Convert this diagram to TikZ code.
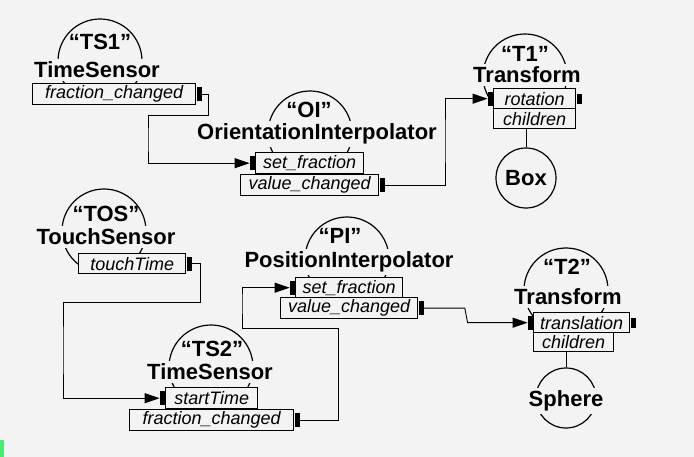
\documentclass[tikz,border=0pt]{standalone}
\usepackage{fontspec}
\setmainfont{Liberation Sans}
\usetikzlibrary{arrows.meta,positioning}
\definecolor{Paper}{HTML}{F3F3F3}
\definecolor{Marker}{HTML}{4CEB78}
\newcommand\typefont{\fontsize{22}{24}\selectfont\bfseries}
\newcommand\fieldfont{\fontsize{18}{20}\selectfont\itshape}

\begin{document}
\begin{tikzpicture}[x=1pt,y=-1pt,
  ring/.style={draw,line width=1.2pt,circle,minimum size=84pt,inner sep=0pt},
  typename/.style={font=\typefont,fill=Paper,inner xsep=2pt,inner ysep=3pt},
  defname/.style={font=\typefont,inner sep=0pt},
  field/.style={draw,line width=1.4pt,fill=Paper,font=\fieldfont,minimum height=21pt,
    inner sep=0pt,anchor=north west},
  port/.style={fill=black,minimum width=5pt,minimum height=14pt,inner sep=0pt},
  knob/.style={fill=black,minimum width=5pt,minimum height=10pt,inner sep=0pt},
  shapenode/.style={draw,line width=1.2pt,circle,minimum size=60pt,inner sep=0pt,font=\typefont},
  wire/.style={line width=0.9pt},
  route/.style={wire,-{Triangle[length=15pt,width=10pt]}}
]
\useasboundingbox[fill=Paper] (0,0) rectangle (694,457);
\fill[Marker] (0,440) rectangle (4,457);

\node[ring] (ts1ring) at (100,61) {};
\node[ring] (oiring) at (310,133) {};
\node[ring] (t1ring) at (525,76) {};
\node[ring] (tosring) at (104,231) {};
\node[ring] (piring) at (347,259) {};
\node[ring] (ts2ring) at (211,367) {};
\node[ring] (t2ring) at (566,290) {};

\node[typename] (ts1) at (97,70) {TimeSensor};
\node[defname] (ts1def) at (100,42) {“TS1”};
\node[field,minimum width=163pt] (ts1fc) at (32,83) {fraction\_changed};
\node[port,anchor=west] (ts1fcp) at (ts1fc.east) {};

\node[typename] (oi) at (317,134) {OrientationInterpolator};
\node[defname] (oidef) at (309,110) {“OI”};
\node[field,minimum width=108pt] (oisf) at (255,152) {set\_fraction};
\node[port,anchor=east] (oisfp) at (oisf.west) {};
\node[field,minimum width=138pt] (oivc) at (240,174) {value\_changed};
\node[port,anchor=west] (oivcp) at (oivc.east) {};

\node[typename] (t1) at (527,75) {Transform};
\node[defname] (t1def) at (525,54) {“T1”};
\node[field,minimum width=82pt,minimum height=20pt] (t1rot) at (493,88) {rotation};
\node[port,anchor=east] (t1rotp) at (t1rot.west) {};
\node[knob,anchor=west] (t1rotk) at (t1rot.east) {};
\node[field,minimum width=82pt,minimum height=20pt] (t1ch) at (493,108) {children};
\node[shapenode] (box) at (526,178) {Box};

\node[typename] (tos) at (106,237) {TouchSensor};
\node[defname] (tosdef) at (106,214) {“TOS”};
\node[field,minimum width=107pt,minimum height=20pt] (tost) at (78,253) {touchTime};
\node[port,anchor=west] (tostp) at (tost.east) {};

\node[typename] (pi) at (349,262) {PositionInterpolator};
\node[defname] (pidef) at (340,236) {“PI”};
\node[field,minimum width=107pt,minimum height=20pt] (pisf) at (295,277) {set\_fraction};
\node[port,anchor=east] (pisfp) at (pisf.west) {};
\node[field,minimum width=137pt] (pivc) at (280,297) {value\_changed};
\node[port,anchor=west] (pivcp) at (pivc.east) {};

\node[typename] (ts2) at (210,372) {TimeSensor};
\node[defname] (ts2def) at (212,349) {“TS2”};
\node[field,minimum width=92pt] (ts2st) at (165,387) {startTime};
\node[port,anchor=east] (ts2stp) at (ts2st.west) {};
\node[field,minimum width=164pt] (ts2fc) at (129,409) {fraction\_changed};
\node[port,anchor=west] (ts2fcp) at (ts2fc.east) {};

\node[typename] (t2) at (568,297) {Transform};
\node[defname] (t2def) at (567,267) {“T2”};
\node[field,minimum width=96pt,minimum height=20pt] (t2tr) at (533,312) {translation};
\node[port,anchor=east] (t2trp) at (t2tr.west) {};
\node[knob,anchor=west] (t2trk) at (t2tr.east) {};
\node[field,minimum width=80pt,minimum height=19pt] (t2ch) at (533,332) {children};
\node[shapenode] (sphere) at (566,398) {};
\node[typename] (spherelbl) at (566,401) {Sphere};

\draw[route] (ts1fcp.east) -| (208,115) -| (148,140) |- (oisfp.west);
\draw[route] (oivcp.east) -| (445,140) |- (t1rotp.west);
\draw[route] (tostp.east) -| (200,302) -| (63,350) |- (ts2stp.west);
\draw[route] (ts2fcp.east) -| (338,328) -| (242,300) |- (pisfp.west);
\draw[route] (pivcp.east) -- ++(41,0) -- ([xshift=-60pt]t2trp.west) -- (t2trp.west);
\draw[wire] (t1ch.south -| box) -- (box);
\draw[wire] (t2ch.south -| sphere) -- (sphere);
\end{tikzpicture}
\end{document}
